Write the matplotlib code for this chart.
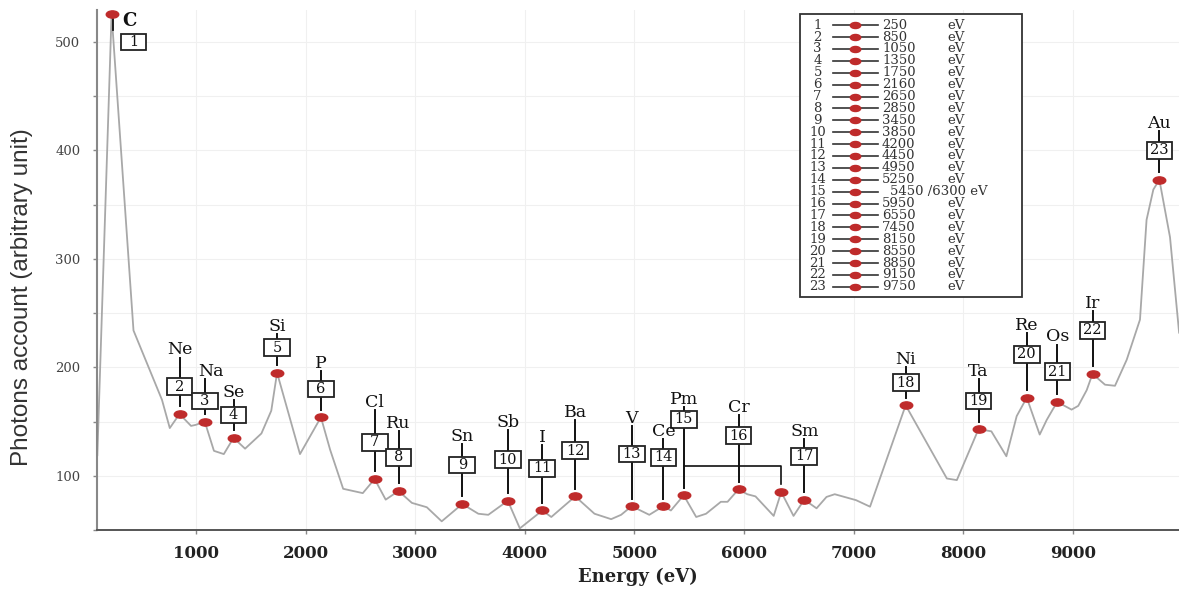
import numpy as np
import matplotlib.pyplot as plt
from matplotlib.path import Path
from matplotlib.patches import Rectangle

# spectrum trace (energy in eV, photon counts)
energy = [100, 230, 430, 690, 761, 850, 955, 1000, 1080, 1164, 1254, 1343, 1448,
          1597, 1687, 1740, 1949, 2140, 2224, 2343, 2522, 2630, 2731, 2848, 2970,
          3106, 3242, 3430, 3576, 3667, 3845, 3955, 4160, 4242, 4460, 4636, 4788,
          4879, 4975, 5136, 5265, 5333, 5450, 5564, 5654, 5789, 5850, 5950, 6030,
          6105, 6271, 6340, 6452, 6550, 6662, 6753, 6828, 7023, 7150, 7475, 7851,
          7942, 8140, 8257, 8394, 8488, 8580, 8698, 8762, 8822, 8860, 8989, 9050,
          9127, 9180, 9294, 9385, 9492, 9613, 9673, 9735, 9790, 9887, 9970]
counts = [119, 526, 234, 170, 144, 157, 146, 147, 150, 123, 120, 135, 125,
          139, 160, 195, 120, 154, 124, 88, 84, 97, 78, 86, 75,
          71, 58, 74, 65, 64, 77, 51.5, 68, 62, 81, 65, 60,
          64, 72, 64, 72, 68, 82, 62, 65, 76, 76, 87.5, 83,
          81, 63, 85, 63, 78, 70, 80.5, 83, 77.5, 71.5, 165, 97.5,
          96, 143, 141, 118, 155, 172, 138, 151.5, 162, 168, 161, 164.5,
          179, 194, 184, 183, 207, 244, 336, 364, 373, 320, 232]

# identified peaks
elements = ['C', 'Ne', 'Na', 'Se', 'Si', 'P', 'Cl', 'Ru', 'Sn', 'Sb', 'I', 'Ba',
            'V', 'Ce', 'Pm', 'Cr', 'Sm', 'Ni', 'Ta', 'Re', 'Os', 'Ir', 'Au']
peak_energy = [230, 850, 1080, 1343, 1740, 2140, 2630, 2848, 3430, 3845, 4160, 4460,
               4975, 5265, 5450, 5950, 6550, 7475, 8140, 8580, 8860, 9180, 9790]
peak_counts = [526, 157, 150, 135, 195, 154, 97, 86, 74, 77, 68, 81,
               72, 72, 82, 87.5, 78, 165, 143, 172, 168, 194, 373]
# second Pm line
pm2_energy = 6340
pm2_counts = 85

legend_energy = ['250', '850', '1050', '1350', '1750', '2160', '2650', '2850',
                 '3450', '3850', '4200', '4450', '4950', '5250', '5450 /6300',
                 '5950', '6550', '7450', '8150', '8550', '8850', '9150', '9750']

# annotation layout (heights of number box and element label)
box_y = [500, 182, 169, 156, 218, 180, 131, 117, 110, 115, 107, 123,
         120, 117, 152, 137, 118, 186, 169, 212, 196, 234, 400]
label_y = [519, 216, 196, 177, 238, 204, 168, 148, 136, 149, 135, 158,
           153, 141, 170, 163, 141, 207, 196, 239, 228, 259, 425]
label_dx = [0] * 23
label_dx[2] = 55

serif = 'DejaVu Serif'
red = '#bf2b2b'
circ = Path.unit_circle()
dot = Path(circ.vertices * [1.0, 0.58], circ.codes)

fig = plt.figure(figsize=(11.79, 5.90), dpi=100)
ax = fig.add_axes([97 / 1179, 60 / 590, 1082 / 1179, 520.5 / 590])

ax.plot(energy, counts, color='#a8a8a8', lw=1.3, zorder=2)
ax.plot(peak_energy + [pm2_energy], peak_counts + [pm2_counts], ls='none',
        marker=dot, ms=9, color=red, zorder=6)

bw, bh = 235, 15.5
for i, el in enumerate(elements):
    x, y = peak_energy[i], peak_counts[i]
    if i == 0:
        ax.plot([x + 10, x + 10], [511, 521], color='#111', lw=1.3, zorder=3)
        bx = 430
        ax.text(390, label_y[i], el, family=serif, fontsize=13, weight='bold',
                ha='center', va='center', color='#111', zorder=5)
    else:
        bx = x
        ax.plot([x, x], [y + 7, label_y[i] - 7], color='#111', lw=1.4, zorder=3)
        ax.text(x + label_dx[i], label_y[i], el, family=serif, fontsize=12.5,
                ha='center', va='center', color='#111', zorder=5)
    ax.add_patch(Rectangle((bx - bw / 2, box_y[i] - bh / 2), bw, bh, facecolor='white',
                           edgecolor='#222', lw=1.3, zorder=4))
    ax.text(bx, box_y[i], str(i + 1), family=serif, fontsize=10.5,
            ha='center', va='center', color='#111', zorder=5)

# bracket joining Pm to its second line
ax.plot([peak_energy[14], pm2_energy, pm2_energy], [109, 109, pm2_counts + 7],
        color='#111', lw=1.2, zorder=3)

ax.set_xlim(97, 9969)
ax.set_ylim(50, 530)
ax.set_xticks(np.arange(1000, 9001, 1000))
ax.set_yticks(np.arange(100, 501, 100))
ax.set_yticks(np.arange(50, 530, 50), minor=True)
ax.grid(True, which='both', color='#f0f0f0', lw=0.8, zorder=0)
for s in ['top', 'right']:
    ax.spines[s].set_visible(False)
ax.spines['left'].set_color('#888888')
ax.spines['left'].set_linewidth(1.5)
ax.spines['bottom'].set_color('#555555')
ax.spines['bottom'].set_linewidth(1.4)
ax.tick_params(axis='x', direction='out', length=3, width=1, color='#888', pad=8,
               labelsize=12, labelcolor='#222')
ax.tick_params(axis='y', which='both', direction='out', length=3, width=1,
               color='#888', pad=9, labelsize=9.5, labelcolor='#444')
for lab in ax.get_xticklabels():
    lab.set_family(serif)
    lab.set_weight('bold')
for lab in ax.get_yticklabels():
    lab.set_family(serif)

ax.set_xlabel('Energy (eV)', family=serif, fontsize=13, weight='bold', color='#222',
              va='center')
ax.xaxis.set_label_coords(0.5, -0.091)
ax.set_ylabel('Photons account (arbitrary unit)', family='Liberation Sans',
              fontsize=17.5, color='#333', va='center')
ax.yaxis.set_label_coords(-0.069, 0.448)

# legend box drawn by hand: number, handle, energy
x0, x1, ytop, ybot = 0.650, 0.855, 0.991, 0.448
ax.add_patch(Rectangle((x0, ybot), x1 - x0, ytop - ybot, transform=ax.transAxes,
                       facecolor='white', edgecolor='#333', lw=1.3, zorder=7))
step = 0.02286
for i, val in enumerate(legend_energy):
    yy = 0.970 - i * step
    ax.text(0.666, yy, str(i + 1), transform=ax.transAxes, family=serif, fontsize=9.5,
            ha='center', va='center', color='#333', zorder=8)
    ax.plot([0.680, 0.722], [yy, yy], transform=ax.transAxes, color='#333', lw=1.2,
            zorder=8, clip_on=False)
    ax.plot([0.701], [yy], transform=ax.transAxes, ls='none', marker=dot, ms=7.5,
            color=red, zorder=9, clip_on=False)
    if '/' in val:
        ax.text(0.733, yy, val + ' eV', transform=ax.transAxes, family=serif, fontsize=9.5,
                ha='left', va='center', color='#333', zorder=8)
    else:
        ax.text(0.7255, yy, val, transform=ax.transAxes, family=serif, fontsize=9.5,
                ha='left', va='center', color='#333', zorder=8)
        ax.text(0.7856, yy, 'eV', transform=ax.transAxes, family=serif, fontsize=9.5,
                ha='left', va='center', color='#333', zorder=8)

fig.savefig('out.png', dpi=100)
